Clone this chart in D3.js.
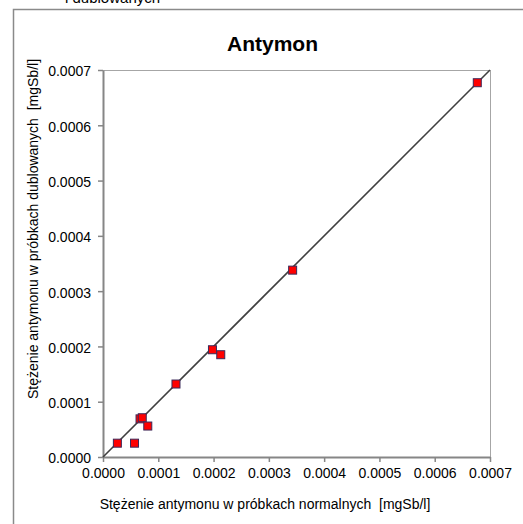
<!DOCTYPE html>
<html><head><meta charset="utf-8">
<script src="https://cdn.jsdelivr.net/npm/d3@7"></script>
<style>
html,body{margin:0;padding:0;background:#fff;}
svg{display:block;font-family:"Liberation Sans",Arial,sans-serif;}
text{white-space:pre;}
</style></head>
<body>
<svg id="c" width="523" height="524"></svg>
<script>
const title = "Antymon";
const xLabel = "Stężenie antymonu w próbkach normalnych  [mgSb/l]";
const yLabel = "Stężenie antymonu w próbkach dublowanych  [mgSb/l]";
const cutText = "i dublowanych";
const normal = [0.000026, 0.000057, 0.000067, 0.000071, 0.000081, 0.000132, 0.000198, 0.000213, 0.000343, 0.000677];
const duplicate = [0.000025, 0.000025, 0.000069, 0.000071, 0.000056, 0.000132, 0.000194, 0.000185, 0.000338, 0.000677];
const tickValues = [0, 0.0001, 0.0002, 0.0003, 0.0004, 0.0005, 0.0006, 0.0007];
const lineEnds = [0, 0.0007];

const svg = d3.select("#c");
const x = d3.scaleLinear().domain([0, 0.0007]).range([103, 490]);
const y = d3.scaleLinear().domain([0, 0.0007]).range([457, 70]);
const fmt = d3.format(".4f");

// cut text from previous chart (cut off at the top, as in the reference)
svg.append("text").attr("x", 65).attr("y", 2.5).attr("font-size", 15).attr("fill", "#000").text(cutText);

// outer frame
svg.append("path").attr("d", "M13.5,524 L13.5,9.5 L523,9.5").attr("fill", "none").attr("stroke", "#8a8a8a").attr("stroke-width", 1.5);

// plot border (top & right)
svg.append("path").attr("d", `M${x(0)},${y(0.0007)+0.5} L${x(0.0007)+0.5},${y(0.0007)+0.5} L${x(0.0007)+0.5},${y(0)}`)
  .attr("fill", "none").attr("stroke", "#a6a6a6").attr("stroke-width", 1);

// axes
const xAxis = svg.append("g").attr("transform", `translate(0,${y(0)})`)
  .call(d3.axisBottom(x).tickValues(tickValues).tickFormat(fmt).tickSizeInner(5).tickSizeOuter(0).tickPadding(6));
const yAxis = svg.append("g").attr("transform", `translate(${x(0)},0)`)
  .call(d3.axisLeft(y).tickValues(tickValues).tickFormat(fmt).tickSizeInner(5).tickSizeOuter(0).tickPadding(7));
[xAxis, yAxis].forEach(g => {
  g.select(".domain").attr("stroke", "#868686").attr("stroke-width", 2);
  g.selectAll(".tick line").attr("stroke", "#868686").attr("stroke-width", 1.5);
  g.selectAll("text").attr("font-size", 14).attr("fill", "#000").attr("font-family", "'Liberation Sans',Arial,sans-serif");
});
yAxis.selectAll("text").attr("dy", "0.42em");

// y = x line
svg.append("line").attr("x1", x(lineEnds[0])).attr("y1", y(lineEnds[0]))
  .attr("x2", x(lineEnds[1])).attr("y2", y(lineEnds[1]))
  .attr("stroke", "#404040").attr("stroke-width", 1.6);

// points
const s = 8;
svg.append("g").selectAll("rect").data(normal.map((v, i) => [v, duplicate[i]])).join("rect")
  .attr("x", d => x(d[0]) - s/2).attr("y", d => y(d[1]) - s/2)
  .attr("width", s).attr("height", s)
  .attr("fill", "#ff0000").attr("stroke", "#3c2a5a").attr("stroke-width", 1);

// title
svg.append("text").attr("x", 272.5).attr("y", 51).attr("text-anchor", "middle")
  .attr("font-size", 21).attr("font-weight", "bold").text(title);

// axis titles
svg.append("text").attr("x", 265).attr("y", 509).attr("text-anchor", "middle")
  .attr("font-size", 14).text(xLabel);
svg.append("text").attr("transform", "translate(38,229) rotate(-90)").attr("text-anchor", "middle")
  .attr("font-size", 14).text(yLabel);
</script>
</body></html>
